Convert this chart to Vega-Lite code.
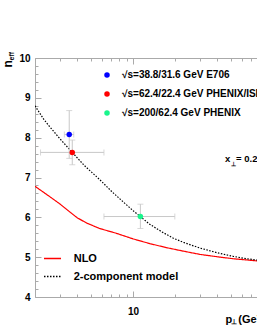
{
  "$schema": "https://vega.github.io/schema/vega-lite/v6.json",
  "width": 222,
  "height": 239,
  "autosize": "none",
  "padding": {"left": 35, "top": 58, "right": 0, "bottom": 36},
  "config": {
    "view": {"stroke": null},
    "font": "Liberation Sans",
    "axis": {"grid": false, "domainColor": "#aaaaaa", "tickColor": "#aaaaaa", "labelColor": "#000000", "labelFont": "Liberation Sans", "labelFontWeight": "bold", "labelFontSize": 10, "titleFont": "Liberation Sans", "titleFontWeight": "bold", "titleColor": "#000000", "labelFlush": false, "labelOverlap": false},
    "legend": {"labelFont": "Liberation Sans", "labelFontWeight": "bold", "labelColor": "#000000", "labelLimit": 400}
  },
  "datasets": {
    "curves": [
      {"model": "NLO", "p": 2.0, "n": 6.78},
      {"model": "NLO", "p": 2.5, "n": 6.54},
      {"model": "NLO", "p": 3.0, "n": 6.34},
      {"model": "NLO", "p": 3.5, "n": 6.15},
      {"model": "NLO", "p": 4.0, "n": 5.99},
      {"model": "NLO", "p": 4.65, "n": 5.86},
      {"model": "NLO", "p": 5.78, "n": 5.72},
      {"model": "NLO", "p": 7.6, "n": 5.6},
      {"model": "NLO", "p": 10, "n": 5.46},
      {"model": "NLO", "p": 13.2, "n": 5.34},
      {"model": "NLO", "p": 17.3, "n": 5.24},
      {"model": "NLO", "p": 23, "n": 5.15},
      {"model": "NLO", "p": 30, "n": 5.07},
      {"model": "NLO", "p": 40, "n": 5.01},
      {"model": "NLO", "p": 52, "n": 4.96},
      {"model": "NLO", "p": 65, "n": 4.93},
      {"model": "NLO", "p": 80, "n": 4.9},
      {"model": "NLO", "p": 100, "n": 4.87},
      {"model": "2-component model", "p": 2.0, "n": 8.8},
      {"model": "2-component model", "p": 2.3, "n": 8.47},
      {"model": "2-component model", "p": 2.54, "n": 8.28},
      {"model": "2-component model", "p": 3.0, "n": 7.98},
      {"model": "2-component model", "p": 3.69, "n": 7.63},
      {"model": "2-component model", "p": 4.5, "n": 7.3},
      {"model": "2-component model", "p": 5.78, "n": 6.95},
      {"model": "2-component model", "p": 7.0, "n": 6.66},
      {"model": "2-component model", "p": 8.5, "n": 6.39},
      {"model": "2-component model", "p": 10, "n": 6.17},
      {"model": "2-component model", "p": 11.3, "n": 6.02},
      {"model": "2-component model", "p": 13, "n": 5.84},
      {"model": "2-component model", "p": 16, "n": 5.64},
      {"model": "2-component model", "p": 19.3, "n": 5.48},
      {"model": "2-component model", "p": 23, "n": 5.37},
      {"model": "2-component model", "p": 30, "n": 5.23},
      {"model": "2-component model", "p": 40, "n": 5.11},
      {"model": "2-component model", "p": 52, "n": 5.02},
      {"model": "2-component model", "p": 65, "n": 4.96},
      {"model": "2-component model", "p": 80, "n": 4.92},
      {"model": "2-component model", "p": 100, "n": 4.88}
    ],
    "pts": [
      {"series": "√s=38.8/31.6 GeV E706", "p": 3.51, "n": 8.08, "plo": 3.24, "phi": 3.78, "nlo": 7.48, "nhi": 8.68},
      {"series": "√s=62.4/22.4 GeV PHENIX/ISR", "p": 3.69, "n": 7.63, "plo": 2.19, "phi": 6.21, "nlo": 7.32, "nhi": 7.94},
      {"series": "√s=200/62.4 GeV PHENIX", "p": 11.3, "n": 6.02, "plo": 6.21, "phi": 19.9, "nlo": 5.72, "nhi": 6.33}
    ],
    "one": [{}]
  },
  "layer": [
    {
      "data": {"name": "curves"},
      "mark": {"type": "line", "clip": true, "strokeWidth": 1.2},
      "encoding": {
        "x": {"field": "p", "type": "quantitative", "scale": {"type": "log", "domain": [2, 76.8], "nice": false},
          "axis": {"orient": "bottom", "values": [2,3,4,5,6,7,8,9,10,20,30,40,50,60,70],
            "tickSize": {"condition": {"test": "datum.value == 10", "value": -6}, "value": -3},
            "labelExpr": "datum.value == 10 ? '10' : ''", "labelPadding": 15,
            "title": "p\u00a0\u00a0(GeV)", "titleFontSize": 11, "titleX": 190, "titleY": 25.4, "titleAlign": "left", "titleBaseline": "alphabetic", "titleAngle": 0}},
        "y": {"field": "n", "type": "quantitative", "scale": {"domain": [4, 10], "nice": false, "zero": false},
          "axis": {"orient": "left", "values": [4,4.2,4.4,4.6,4.8,5,5.2,5.4,5.6,5.8,6,6.2,6.4,6.6,6.8,7,7.2,7.4,7.6,7.8,8,8.2,8.4,8.6,8.8,9,9.2,9.4,9.6,9.8,10],
            "tickSize": {"condition": {"test": "abs(datum.value - round(datum.value)) < 0.01", "value": -6}, "value": -3},
            "labelExpr": "abs(datum.value - round(datum.value)) < 0.01 ? format(datum.value, 'd') : ''", "labelPadding": 11,
            "title": "n", "titleFontSize": 12, "titleAngle": -90, "titleX": -23.7, "titleY": 9, "titleAlign": "left", "titleBaseline": "alphabetic"}},
        "color": {"field": "model", "type": "nominal", "scale": {"domain": ["NLO", "2-component model"], "range": ["#ff0000", "#000000"]},
          "legend": {"orient": "none", "legendX": 8, "legendY": 191, "title": null, "symbolType": "stroke", "symbolSize": 289, "symbolStrokeWidth": 1.3, "labelFontSize": 11, "labelOffset": 11.7, "rowPadding": 3, "padding": 0}},
        "strokeDash": {"field": "model", "type": "nominal", "scale": {"domain": ["NLO", "2-component model"], "range": [[1, 0], [1.5, 1.5]]},
          "legend": {"orient": "none", "legendX": 8, "legendY": 191, "title": null, "symbolType": "stroke", "symbolSize": 289, "symbolStrokeWidth": 1.3, "labelFontSize": 11, "labelOffset": 11.7, "rowPadding": 3, "padding": 0}}
      }
    },
    {
      "data": {"name": "pts"},
      "mark": {"type": "errorbar", "color": "#c8c8c8", "thickness": 1, "ticks": {"size": 6, "color": "#c8c8c8"}},
      "encoding": {
        "x": {"field": "p", "type": "quantitative", "scale": {"type": "log", "domain": [2, 76.8], "nice": false}, "axis": null},
        "y": {"field": "nlo", "type": "quantitative", "scale": {"domain": [4, 10], "nice": false, "zero": false}, "axis": null},
        "y2": {"field": "nhi"}
      }
    },
    {
      "data": {"name": "pts"},
      "mark": {"type": "errorbar", "color": "#c8c8c8", "thickness": 1, "ticks": {"size": 6, "color": "#c8c8c8"}},
      "encoding": {
        "x": {"field": "plo", "type": "quantitative", "scale": {"type": "log", "domain": [2, 76.8], "nice": false}, "axis": null},
        "x2": {"field": "phi"},
        "y": {"field": "n", "type": "quantitative", "scale": {"domain": [4, 10], "nice": false, "zero": false}, "axis": null}
      }
    },
    {
      "data": {"name": "pts"},
      "mark": {"type": "point", "filled": true, "size": 30, "opacity": 1},
      "encoding": {
        "x": {"field": "p", "type": "quantitative", "scale": {"type": "log", "domain": [2, 76.8], "nice": false},
          "axis": {"orient": "top", "values": [2,3,4,5,6,7,8,9,10,20,30,40,50,60,70],
            "tickSize": {"condition": {"test": "datum.value == 10", "value": -6}, "value": -3},
            "labels": false,
            "title": "⊥", "titleFontSize": 7, "titleX": 195.7, "titleY": 265.3, "titleAlign": "left", "titleBaseline": "alphabetic", "titleAngle": 0}},
        "y": {"field": "n", "type": "quantitative", "scale": {"domain": [4, 10], "nice": false, "zero": false},
          "axis": {"orient": "right", "ticks": false, "labels": false, "domain": false,
            "title": "eff", "titleFontSize": 7, "titleAngle": -90, "titleX": -243.5, "titleY": 2, "titleAlign": "left", "titleBaseline": "alphabetic"}},
        "color": {"field": "series", "type": "nominal",
          "scale": {"domain": ["√s=38.8/31.6 GeV E706", "√s=62.4/22.4 GeV PHENIX/ISR", "√s=200/62.4 GeV PHENIX"], "range": ["#0000ff", "#ff0000", "#19f58c"]},
          "legend": {"orient": "none", "legendX": 67, "legendY": 12, "title": null, "symbolType": "circle", "symbolSize": 30, "symbolStrokeWidth": 0, "labelFontSize": 10, "labelOffset": 10, "rowPadding": 9, "padding": 0}}
      }
    },
    {
      "data": {"name": "one"},
      "mark": {"type": "text", "text": "x", "align": "left", "baseline": "alphabetic", "fontSize": 9.5, "fontWeight": "bold", "font": "Liberation Sans", "color": "#000000"},
      "encoding": {
        "x": {"datum": 45.4, "type": "quantitative", "scale": {"type": "log", "domain": [2, 76.8], "nice": false}, "axis": null},
        "y": {"datum": 7.397, "type": "quantitative", "scale": {"domain": [4, 10], "nice": false, "zero": false}, "axis": null}
      }
    },
    {
      "data": {"name": "one"},
      "mark": {"type": "text", "text": "⊥", "align": "left", "baseline": "alphabetic", "fontSize": 6, "fontWeight": "bold", "color": "#000000"},
      "encoding": {
        "x": {"datum": 49.7, "type": "quantitative", "scale": {"type": "log", "domain": [2, 76.8], "nice": false}, "axis": null},
        "y": {"datum": 7.289, "type": "quantitative", "scale": {"domain": [4, 10], "nice": false, "zero": false}, "axis": null}
      }
    },
    {
      "data": {"name": "one"},
      "mark": {"type": "text", "text": "= 0.2", "align": "left", "baseline": "alphabetic", "fontSize": 9.5, "fontWeight": "bold", "font": "Liberation Sans", "color": "#000000"},
      "encoding": {
        "x": {"datum": 54.4, "type": "quantitative", "scale": {"type": "log", "domain": [2, 76.8], "nice": false}, "axis": null},
        "y": {"datum": 7.397, "type": "quantitative", "scale": {"domain": [4, 10], "nice": false, "zero": false}, "axis": null}
      }
    }
  ],
  "resolve": {
    "axis": {"x": "independent", "y": "independent"},
    "scale": {"color": "independent", "strokeDash": "independent"}
  }
}
